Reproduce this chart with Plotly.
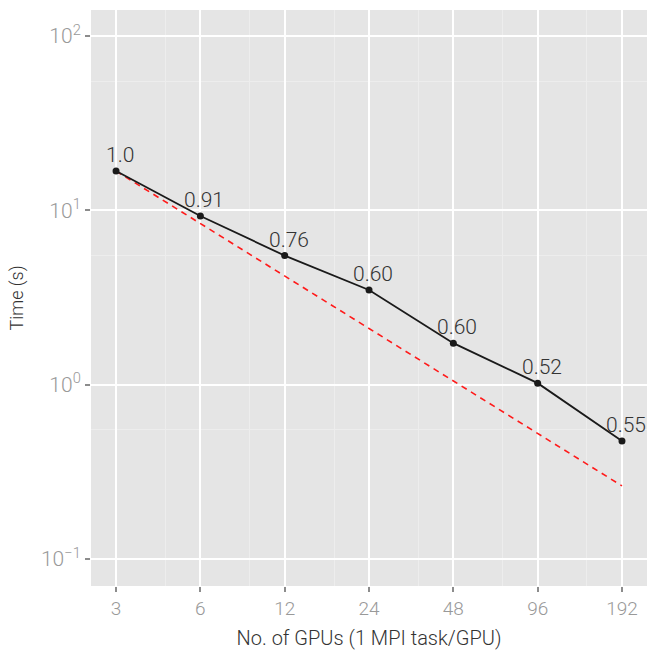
import math
import plotly.graph_objects as go

# Strong-scaling run: wall time per step vs. number of GPUs
gpus = [3, 6, 12, 24, 48, 96, 192]
time_s = [16.8, 9.28, 5.5, 3.49, 1.73, 1.02, 0.475]
efficiency = ["1.0", "0.91", "0.76", "0.60", "0.60", "0.52", "0.55"]

# Ideal scaling from the 3-GPU time
ideal = [time_s[0] * gpus[0] / g for g in gpus]

x_ticks = gpus
y_ticks = [0.1, 1, 10, 100]
y_tick_text = ["10<sup>\u22121</sup>", "10<sup>0</sup>", "10<sup>1</sup>", "10<sup>2</sup>"]

# ggplot-style minor breaks: linear midpoints between major breaks
x_minor = [(a + b) / 2 for a, b in zip(x_ticks[:-1], x_ticks[1:])]
y_minor = [(a + b) / 2 for a, b in zip(y_ticks[:-1], y_ticks[1:])]

FONT = "Roboto"

fig = go.Figure()
fig.add_trace(go.Scatter(
    x=gpus, y=ideal, mode="lines",
    line=dict(color="#FF1A1A", width=1.6, dash="6px,5px"),
    hoverinfo="skip", showlegend=False,
))
fig.add_trace(go.Scatter(
    x=gpus, y=time_s, mode="lines+markers",
    line=dict(color="#1A1A1A", width=1.8),
    marker=dict(color="#1A1A1A", size=7),
    showlegend=False,
))

# Parallel-efficiency labels (annotations on log axes take log10 positions)
for g, t, e in zip(gpus, time_s, efficiency):
    fig.add_annotation(
        x=math.log10(g), y=math.log10(t), xref="x", yref="y", text=e,
        showarrow=False, xanchor="center", yanchor="bottom",
        xshift=4, yshift=2,
        font=dict(family=FONT, size=21, color="#333333", weight=300),
    )

fig.update_layout(
    width=647, height=650,
    margin=dict(l=91, r=0, t=10, b=64),
    paper_bgcolor="white",
    plot_bgcolor="#E5E5E5",
    font=dict(family=FONT),
)

fig.update_xaxes(
    type="log", range=[0.3877, 2.3726],
    tickmode="array", tickvals=x_ticks, ticktext=[str(v) for v in x_ticks],
    ticks="outside", ticklen=5, tickwidth=1.5, tickcolor="#8C8C8C",
    tickfont=dict(family=FONT, size=19, color="#999999", weight=300),
    showgrid=True, gridcolor="white", gridwidth=2,
    minor=dict(tickmode="array", tickvals=x_minor, showgrid=True,
               gridcolor="#EDEDED", gridwidth=1, ticks=""),
    zeroline=False, showline=False,
    title=dict(text="No. of GPUs (1 MPI task/GPU)", standoff=13,
               font=dict(family=FONT, size=20, color="#333333", weight=300)),
)
fig.update_yaxes(
    type="log", range=[-1.155, 2.149],
    tickmode="array", tickvals=y_ticks, ticktext=y_tick_text,
    ticks="outside", ticklen=5, tickwidth=1.5, tickcolor="#8C8C8C",
    tickfont=dict(family=FONT, size=21, color="#999999", weight=300),
    showgrid=True, gridcolor="white", gridwidth=2,
    minor=dict(tickmode="array", tickvals=y_minor, showgrid=True,
               gridcolor="#EDEDED", gridwidth=1, ticks=""),
    zeroline=False, showline=False,
    title=dict(text="Time (s)", standoff=12,
               font=dict(family=FONT, size=18, color="#333333", weight=300)),
)

fig.write_html("out.html")
